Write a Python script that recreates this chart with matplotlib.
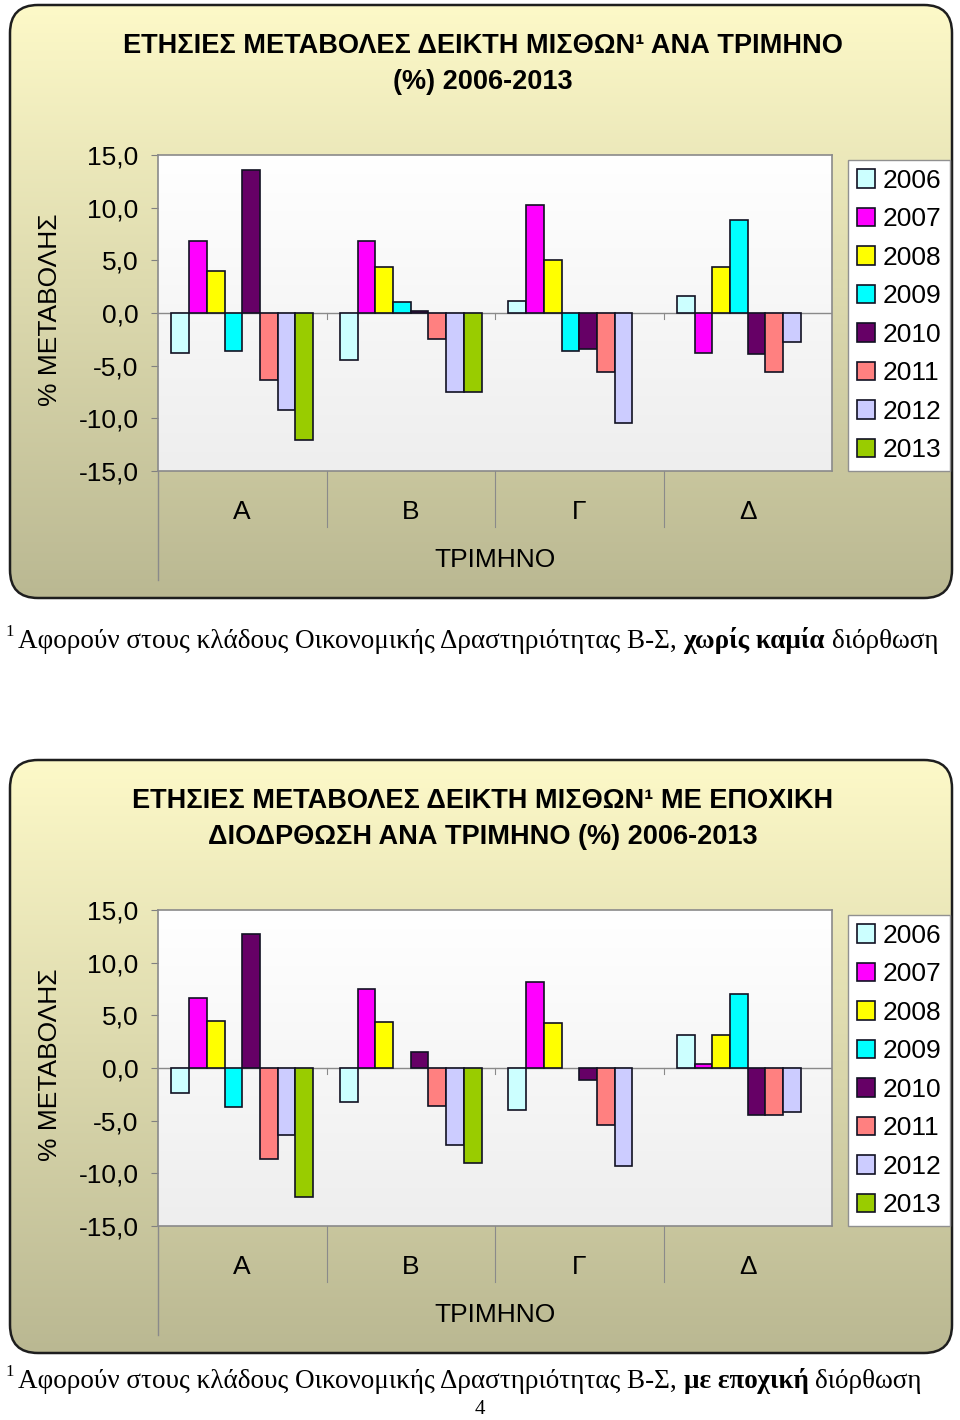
import matplotlib.pyplot as plt
import numpy as np
from matplotlib.patches import FancyBboxPatch
from matplotlib.transforms import blended_transform_factory

nan = np.nan

# categories / series
quarters = ["Α", "Β", "Γ", "Δ"]
years = ["2006", "2007", "2008", "2009", "2010", "2011", "2012", "2013"]
colors = ["#CCFFFF", "#FF00FF", "#FFFF00", "#00FFFF",
          "#660066", "#FF8080", "#CCCCFF", "#99CC00"]

# χωρίς διόρθωση, τιμές ανά τρίμηνο για 2006..2013
raw_a = [-3.8, 6.8, 4.0, -3.6, 13.6, -6.4, -9.2, -12.1]
raw_b = [-4.5, 6.8, 4.4, 1.0, 0.2, -2.5, -7.5, -7.5]
raw_g = [1.1, 10.3, 5.0, -3.6, -3.4, -5.6, -10.4, nan]
raw_d = [1.6, -3.8, 4.4, 8.8, -3.9, -5.6, -2.8, nan]

# με εποχική διόρθωση
sa_a = [-2.4, 6.6, 4.5, -3.7, 12.7, -8.6, -6.4, -12.2]
sa_b = [-3.2, 7.5, 4.4, nan, 1.5, -3.6, -7.3, -9.0]
sa_g = [-4.0, 8.2, 4.3, nan, -1.1, -5.4, -9.3, nan]
sa_d = [3.1, 0.4, 3.1, 7.0, -4.5, -4.5, -4.2, nan]

yticks = [-15, -10, -5, 0, 5, 10, 15]

W, H = 960, 1420
SANS = "Liberation Sans"
SERIF = "Liberation Serif"
FS = 19  # axis text size

fig = plt.figure(figsize=(9.6, 14.2), dpi=100)
fig.patch.set_facecolor("white")
bg = fig.add_axes([0, 0, 1, 1], zorder=0)
bg.set_xlim(0, W)
bg.set_ylim(H, 0)
bg.axis("off")

renderer = fig.canvas.get_renderer()


def panel(y0, data, title1, title2, foot_pre, foot_bold, foot_post, foot_y):
    # rounded panel with yellow -> khaki gradient
    box = FancyBboxPatch((10, y0), 942, 593, boxstyle="round,pad=0,rounding_size=28",
                         fc="none", ec="#1e1e1e", lw=1.8, zorder=5)
    bg.add_patch(box)
    g = np.linspace(0, 1, 256)[:, None, None]
    top = np.array([253, 249, 200]) / 255
    bot = np.array([186, 184, 146]) / 255
    img = top + (bot - top) * g
    im = bg.imshow(img, extent=(10, 952, y0 + 593, y0), aspect="auto", zorder=1)
    im.set_clip_path(box)

    # plot area gradient
    g2 = np.linspace(0, 1, 256)[:, None, None]
    p_top = np.array([255, 255, 255]) / 255
    p_bot = np.array([238, 238, 238]) / 255
    bg.imshow(p_top + (p_bot - p_top) * g2, extent=(158, 832, y0 + 466, y0 + 150),
              aspect="auto", zorder=2)
    bg.set_xlim(0, W)
    bg.set_ylim(H, 0)

    # titles
    bg.text(483, y0 + 41, title1, ha="center", va="center", fontsize=19.5,
            fontweight="bold", family=SANS, zorder=6)
    bg.text(483, y0 + 77, title2, ha="center", va="center", fontsize=19.5,
            fontweight="bold", family=SANS, zorder=6)

    ax = fig.add_axes([158 / W, 1 - (y0 + 466) / H, 674 / W, 316 / H], zorder=3)
    ax.patch.set_alpha(0)
    x = np.arange(len(quarters))
    w = 0.105
    for i, yr in enumerate(years):
        vals = [q[i] for q in data]
        ax.bar(x + (i - 3.5) * w, vals, w, color=colors[i], edgecolor="#111122",
               linewidth=1.2, label=yr, zorder=3)
    ax.axhline(0, color="#8a8a8a", lw=1, zorder=2)
    ax.set_xlim(-0.5, 3.5)
    ax.set_ylim(-15, 15)
    ax.set_yticks(yticks, [f"{v:.1f}".replace(".", ",") for v in yticks])
    ax.set_xticks(x, quarters)
    ax.tick_params(axis="y", direction="out", length=5, color="#808080",
                   labelsize=FS, pad=9)
    ax.tick_params(axis="x", length=0, pad=21, labelsize=FS)
    for lab in ax.get_xticklabels() + ax.get_yticklabels():
        lab.set_family(SANS)
    for s in ax.spines.values():
        s.set_color("#8a8a8a")
        s.set_linewidth(1.2)

    # category strip lines
    ax.plot([0, 0], [0, -(109 / 316)], transform=ax.transAxes, color="#8a8a8a",
            lw=1, clip_on=False)
    tr = blended_transform_factory(ax.transData, ax.transAxes)
    for b in [0.5, 1.5, 2.5]:
        ax.plot([b, b], [0, -(56 / 316)], transform=tr, color="#8a8a8a",
                lw=0.8, clip_on=False)
        ax.plot([b, b], [0, -0.6], color="#8a8a8a", lw=0.8, zorder=2)

    ax.set_ylabel("% ΜΕΤΑΒΟΛΗΣ", fontsize=FS, family=SANS)
    ax.yaxis.set_label_coords(-0.142, 0.51)
    ax.set_xlabel("ΤΡΙΜΗΝΟ", fontsize=FS, family=SANS)
    ax.xaxis.set_label_coords(0.5, -0.245)

    h, l = ax.get_legend_handles_labels()
    leg = fig.legend(h, l, loc="upper left",
                     bbox_to_anchor=(848 / W, 1 - (y0 + 155) / H),
                     borderaxespad=0, frameon=True, fancybox=False,
                     framealpha=1, edgecolor="#909090", facecolor="white",
                     handlelength=0.68, handleheight=0.68, handletextpad=0.3,
                     labelspacing=0.55, borderpad=0.33,
                     prop={"family": SANS, "size": 19})
    leg.get_frame().set_linewidth(1.0)
    for p in leg.get_patches():
        p.set_linewidth(1.2)

    # footnote with bold part
    bg.text(5, foot_y - 9, "1", fontsize=12, family=SERIF, ha="left", va="center")
    t1 = bg.text(18, foot_y, foot_pre, fontsize=19.5, family=SERIF, ha="left", va="center")
    sp = (bg.text(0, 0, "x x", fontsize=19.5, family=SERIF).get_window_extent(renderer).width
          - bg.text(0, 0, "xx", fontsize=19.5, family=SERIF).get_window_extent(renderer).width)
    for t in bg.texts[-2:]:
        t.remove()
    x1 = 18 + t1.get_window_extent(renderer).width + sp
    t2 = bg.text(x1, foot_y, foot_bold, fontsize=19.5, family=SERIF, fontweight="bold",
                 ha="left", va="center")
    x2 = x1 + t2.get_window_extent(renderer).width + sp
    bg.text(x2, foot_y, foot_post, fontsize=19.5, family=SERIF, ha="left", va="center")


foot = "Αφορούν στους κλάδους Οικονομικής Δραστηριότητας Β-Σ,"
panel(5, [raw_a, raw_b, raw_g, raw_d],
      "ΕΤΗΣΙΕΣ ΜΕΤΑΒΟΛΕΣ ΔΕΙΚΤΗ ΜΙΣΘΩΝ¹ ΑΝΑ ΤΡΙΜΗΝΟ", "(%) 2006-2013",
      foot, "χωρίς καμία", "διόρθωση", 641)
panel(760, [sa_a, sa_b, sa_g, sa_d],
      "ΕΤΗΣΙΕΣ ΜΕΤΑΒΟΛΕΣ ΔΕΙΚΤΗ ΜΙΣΘΩΝ¹ ΜΕ ΕΠΟΧΙΚΗ",
      "ΔΙΟΔΡΘΩΣΗ ΑΝΑ ΤΡΙΜΗΝΟ (%) 2006-2013",
      foot, "με εποχική", "διόρθωση", 1381)

bg.text(480, 1410, "4", fontsize=15, family=SERIF, ha="center", va="center")

fig.savefig("out.png", dpi=100)
